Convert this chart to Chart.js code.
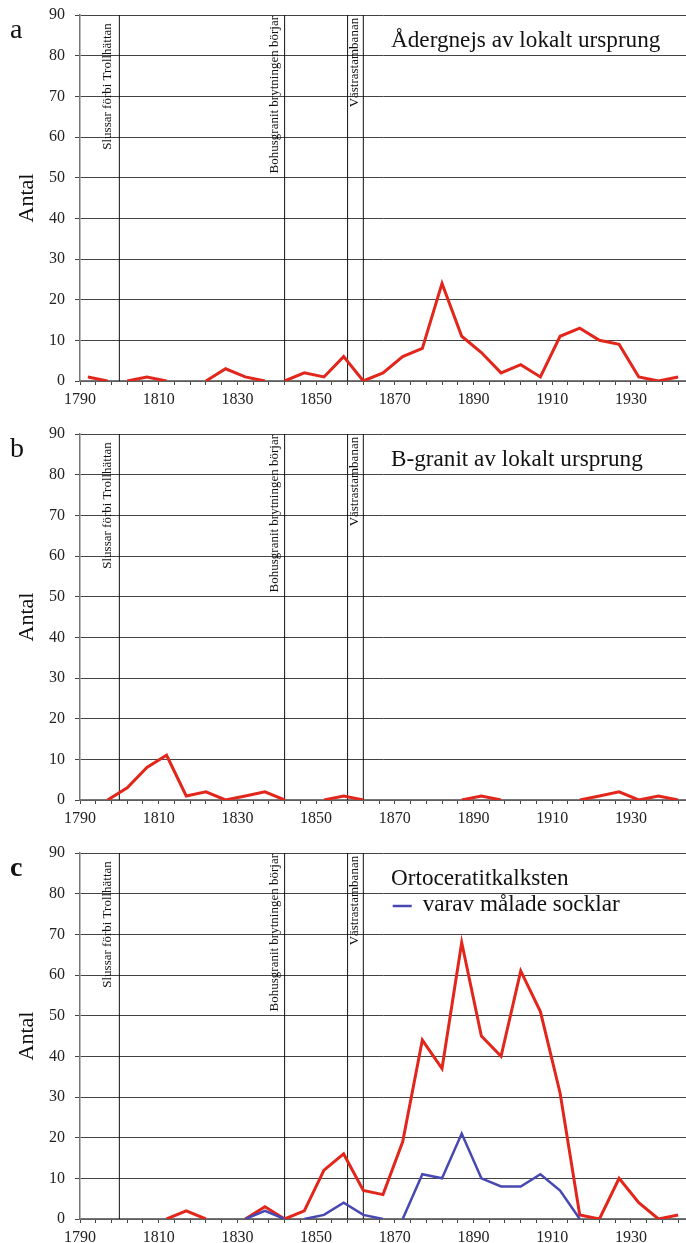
<!DOCTYPE html>
<html><head><meta charset="utf-8">
<script src="https://cdn.jsdelivr.net/npm/chart.js@4"></script>
<style>
html,body{margin:0;padding:0;background:#fff;width:686px;height:1243px;overflow:hidden;}
canvas{position:absolute;left:0;}
</style></head><body>
<canvas id="ca" width="686" height="414" style="top:0px"></canvas>
<canvas id="cb" width="686" height="414" style="top:419px"></canvas>
<canvas id="cc" width="686" height="414" style="top:838px"></canvas>
<script>
// ---- data ----
const years = [1792,1797,1802,1807,1812,1817,1822,1827,1832,1837,1842,1847,1852,1857,1862,1867,1872,1877,1882,1887,1892,1897,1902,1907,1912,1917,1922,1927,1932,1937,1942];
const adergnejs = [1,0,0,1,0,0,0,3,1,0,0,2,1,6,0,2,6,8,24,11,7,2,4,1,11,13,10,9,1,0,1];
const bGranit   = [0,0,3,8,11,1,2,0,1,2,0,0,0,1,0,0,0,0,0,0,1,0,0,0,0,0,1,2,0,1,0];
const ortoceratit = [0,0,0,0,0,2,0,0,0,3,0,2,12,16,7,6,19,44,37,68,45,40,61,51,31,1,0,10,4,0,1];
const maladeSocklar = [0,0,0,0,0,0,0,0,0,2,0,0,1,4,1,0,0,11,10,21,10,8,8,11,7,0,0,0,0,0,0];
const majorYears = [1790,1810,1830,1850,1870,1890,1910,1930];
const eventYears = [1800,1842,1858,1862];
const eventLabels = ['Slussar förbi Trollhättan','Bohusgranit brytningen börjar','Västrastambanan'];
const eventLabelX = [1797.1,1839.5,1859.9];
const eventLabelTop = [88.0,89.75,89.3];
const panelLetters = ['a','b','c'];
const panelTitles = ['Ådergnejs av lokalt ursprung','B-granit av lokalt ursprung','Ortoceratitkalksten'];
const legendText = 'varav målade socklar';

const RED = '#e2261b', BLUE = '#4848b2';
const SERIF = '"Liberation Serif", "Times New Roman", serif';
const minorTicks = [];
for (let v = 1790; v <= 1944; v += 4) minorTicks.push(v);

const pts = vals => years.map((yr, i) => ({x: yr, y: vals[i]}));
const seg = color => ({borderColor: c => (c.p0.parsed.y === 0 && c.p1.parsed.y === 0) ? 'rgba(0,0,0,0)' : color});

const annot = {
  id: 'annot',
  afterDatasetsDraw(chart, args, o) {
    const {ctx, chartArea: a, scales: {x, y}} = chart;
    ctx.save();
    ctx.fillStyle = '#111';
    ctx.font = '13px ' + SERIF;
    ctx.textAlign = 'right'; ctx.textBaseline = 'middle';
    eventLabels.forEach((t, i) => {
      ctx.save();
      ctx.translate(x.getPixelForValue(eventLabelX[i]), y.getPixelForValue(eventLabelTop[i]));
      ctx.rotate(-Math.PI / 2);
      ctx.fillText(t, 0, 0);
      ctx.restore();
    });
    ctx.fillStyle = '#111';
    ctx.textAlign = 'left'; ctx.textBaseline = 'alphabetic';
    ctx.font = '23.2px ' + SERIF;
    ctx.fillText(o.title, a.left + 311, a.top + 32);
    if (o.legend) {
      ctx.strokeStyle = BLUE; ctx.lineWidth = 2.5;
      ctx.beginPath(); ctx.moveTo(a.left + 312.7, a.top + 53); ctx.lineTo(a.left + 331.7, a.top + 53); ctx.stroke();
      ctx.fillText(o.legend, a.left + 342.7, a.top + 58);
    }
    ctx.font = (o.bold ? 'bold ' : '') + '28px ' + SERIF;
    ctx.fillText(o.letter, 10, a.top + 23);
    ctx.restore();
  }
};

function makeChart(id, idx, series) {
  const datasets = series.map(s => ({
    data: pts(s.values), borderColor: s.color, borderWidth: s.width, pointRadius: 0,
    tension: 0, segment: seg(s.color), order: s.order, borderJoinStyle: 'miter'
  }));
  eventYears.forEach(yr => datasets.push({
    data: [{x: yr, y: 0}, {x: yr, y: 90}], borderColor: '#111', borderWidth: 1,
    pointRadius: 0, order: 10
  }));
  return new Chart(document.getElementById(id), {
    type: 'line',
    data: {datasets},
    options: {
      responsive: false, animation: false, devicePixelRatio: 1,
      layout: {padding: {top: 15, left: 0, right: 0, bottom: 0}},
      plugins: {legend: {display: false}, tooltip: {enabled: false},
        annot: {title: panelTitles[idx], letter: panelLetters[idx], legend: idx === 2 ? legendText : null, bold: idx === 2}},
      scales: {
        x: {
          type: 'linear', min: 1790, max: 1944,
          afterBuildTicks: s => { s.ticks = minorTicks.map(v => ({value: v})); },
          afterFit: s => { s.height = 33; },
          grid: {drawOnChartArea: false, drawTicks: true, tickLength: 4, color: '#444', lineWidth: 1},
          border: {display: true, color: '#777', width: 1.5},
          ticks: {autoSkip: false, maxRotation: 0, minRotation: 0, padding: 5, color: '#222',
            font: {family: SERIF, size: 16},
            callback: v => majorYears.includes(v) ? String(v) : ''}
        },
        y: {
          min: 0, max: 90,
          afterFit: s => { s.width = 80; s.paddingTop = 0; s.paddingBottom = 0; },
          grid: {color: '#444', lineWidth: 1, tickLength: 5},
          border: {display: true, color: '#777', width: 1.5},
          ticks: {stepSize: 10, padding: 10, color: '#222', font: {family: SERIF, size: 16}},
          title: {display: true, text: 'Antal', color: '#111', font: {family: SERIF, size: 22},
            padding: {top: 14, bottom: 0}}
        }
      }
    },
    plugins: [annot]
  });
}

makeChart('ca', 0, [{values: adergnejs, color: RED, width: 3, order: 2}]);
makeChart('cb', 1, [{values: bGranit, color: RED, width: 3, order: 2}]);
makeChart('cc', 2, [{values: ortoceratit, color: RED, width: 3, order: 2},
                    {values: maladeSocklar, color: BLUE, width: 2.5, order: 1}]);
</script>
</body></html>
